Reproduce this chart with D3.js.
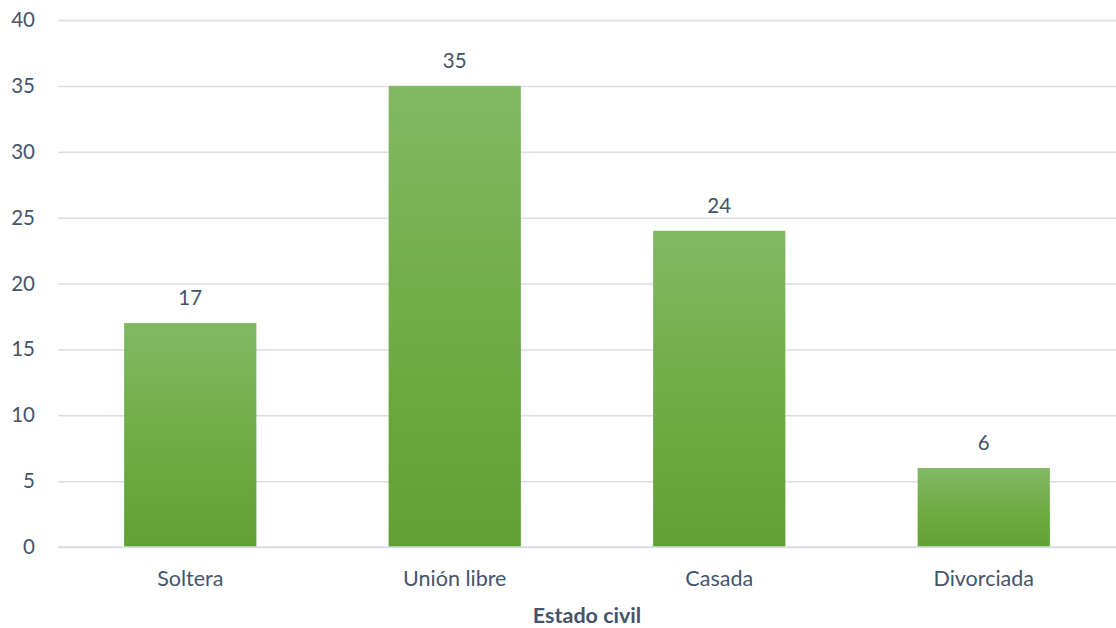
<!DOCTYPE html>
<html>
<head>
<meta charset="utf-8">
<script src="https://cdn.jsdelivr.net/npm/d3@7"></script>
<style>
  html, body { margin: 0; padding: 0; background: #fff; }
  svg { display: block; }
  text { font-family: Lato, "Open Sans", sans-serif; fill: #44546a; }
</style>
</head>
<body>
<svg id="chart" width="1116" height="628"></svg>
<script>
const categories = ["Soltera", "Unión libre", "Casada", "Divorciada"];
const values = [17, 35, 24, 6];
const yTicks = [0, 5, 10, 15, 20, 25, 30, 35, 40];
const axisTitle = "Estado civil";

const W = 1116, H = 628;
const margin = { top: 20, right: 0, bottom: 81, left: 58 };
const svg = d3.select("#chart");

const x = d3.scaleBand()
  .domain(categories)
  .range([margin.left, W - margin.right])
  .paddingInner(0.5)
  .paddingOuter(0.25);

const y = d3.scaleLinear()
  .domain([0, 40])
  .range([H - margin.bottom, margin.top]);

// vertical green gradient for the bars
const defs = svg.append("defs");
const grad = defs.append("linearGradient")
  .attr("id", "barGrad").attr("x1", 0).attr("y1", 0).attr("x2", 0).attr("y2", 1);
grad.append("stop").attr("offset", "0%").attr("stop-color", "#83b865");
grad.append("stop").attr("offset", "50%").attr("stop-color", "#70ad45");
grad.append("stop").attr("offset", "100%").attr("stop-color", "#62a033");

// horizontal gridlines + y labels
const yAxis = d3.axisLeft(y)
  .tickValues(yTicks)
  .tickSize(-(W - margin.left - margin.right))
  .tickPadding(23);

const gy = svg.append("g")
  .attr("transform", `translate(${margin.left},0)`)
  .call(yAxis);
gy.select(".domain").remove();
gy.selectAll(".tick line").attr("stroke", "#d9dde3").attr("stroke-width", 1.5);
gy.selectAll(".tick text")
  .style("font-size", "20.5px")
  .attr("fill", "#44546a");

// bars
svg.append("g").selectAll("rect")
  .data(values)
  .join("rect")
  .attr("x", (d, i) => x(categories[i]))
  .attr("y", d => y(d))
  .attr("width", x.bandwidth())
  .attr("height", d => y(0) - y(d))
  .attr("fill", "url(#barGrad)");

// baseline
svg.append("line")
  .attr("x1", margin.left).attr("x2", W - margin.right)
  .attr("y1", y(0)).attr("y2", y(0))
  .attr("stroke", "#d9dde3").attr("stroke-width", 1.5);

// value labels
svg.append("g").selectAll("text")
  .data(values)
  .join("text")
  .attr("x", (d, i) => x(categories[i]) + x.bandwidth() / 2)
  .attr("y", d => y(d) - 18)
  .attr("text-anchor", "middle")
  .style("font-size", "20.5px")
  .text(d => d);

// category labels
const xAxis = d3.axisBottom(x).tickSize(0).tickPadding(24);
const gx = svg.append("g")
  .attr("transform", `translate(0,${y(0)})`)
  .call(xAxis);
gx.select(".domain").remove();
gx.selectAll(".tick text")
  .style("font-size", "21.5px")
  .attr("fill", "#44546a");

// axis title
svg.append("text")
  .attr("x", (margin.left + W - margin.right) / 2)
  .attr("y", 623)
  .attr("text-anchor", "middle")
  .style("font-size", "21.5px")
  .style("font-weight", "bold")
  .text(axisTitle);
</script>
</body>
</html>
